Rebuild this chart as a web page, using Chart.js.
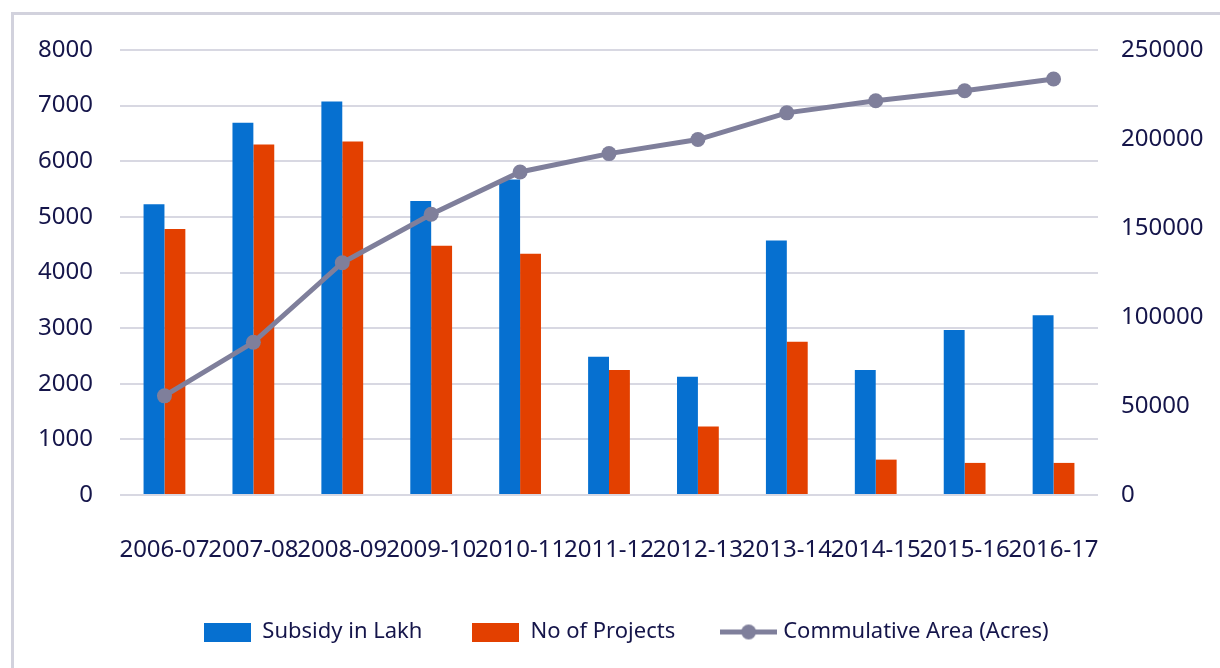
<!DOCTYPE html>
<html>
<head>
<meta charset="utf-8">
<script src="https://cdn.jsdelivr.net/npm/chart.js@4.4.1/dist/chart.umd.min.js"></script>
<style>
  html, body { margin: 0; padding: 0; background: #ffffff; }
  #wrap { position: relative; width: 1220px; height: 668px; overflow: hidden; }
  #frame { position: absolute; left: 11px; top: 12px; width: 1300px; height: 800px;
           border-left: 3px solid #d2d2dd; border-top: 3px solid #d2d2dd; }
  canvas { position: absolute; left: 0; top: 0; }
</style>
</head>
<body>
<div id="wrap">
  <div id="frame"></div>
  <canvas id="c" width="1220" height="668"></canvas>
</div>
<script>
const categories = ["2006-07","2007-08","2008-09","2009-10","2010-11","2011-12","2012-13","2013-14","2014-15","2015-16","2016-17"];
const subsidyInLakh = [5225, 6690, 7075, 5285, 5670, 2486, 2126, 4577, 2247, 2967, 3231];
const noOfProjects = [4780, 6300, 6355, 4480, 4337, 2247, 1231, 2757, 636, 577, 577];
const cumulativeArea = [55700, 85800, 130500, 157700, 181500, 191800, 199700, 214700, 221500, 227100, 233700];
const leftTicks = [0, 1000, 2000, 3000, 4000, 5000, 6000, 7000, 8000];
const rightTicks = [0, 50000, 100000, 150000, 200000, 250000];
const seriesNames = ["Subsidy in Lakh", "No of Projects", "Commulative Area (Acres)"];

const BLUE = "#0670d0", ORANGE = "#e34000", GREY = "#7f7f9b", TEXT = "#15154a", GRID = "#d8d8e2";
const FONT = "'Noto Sans', 'DejaVu Sans Condensed', sans-serif";

function rectImg(color, w, h) {
  const c = document.createElement("canvas"); c.width = w; c.height = h;
  const x = c.getContext("2d"); x.fillStyle = color; x.fillRect(0, 0, w, h); return c;
}
function lineImg(color, w, h) {
  const c = document.createElement("canvas"); c.width = w; c.height = h;
  const x = c.getContext("2d");
  x.strokeStyle = color; x.lineWidth = 5; x.beginPath(); x.moveTo(0, h / 2); x.lineTo(w, h / 2); x.stroke();
  x.fillStyle = color; x.beginPath(); x.arc(w / 2, h / 2, 7.5, 0, Math.PI * 2); x.fill();
  return c;
}
const legendImgs = [rectImg(BLUE, 47, 19), rectImg(ORANGE, 47, 19), lineImg(GREY, 57, 19)];

new Chart(document.getElementById("c"), {
  data: {
    labels: categories,
    datasets: [
      { type: "bar", label: seriesNames[0], data: subsidyInLakh, backgroundColor: BLUE, yAxisID: "y",
        categoryPercentage: 0.47, barPercentage: 1.0, order: 2 },
      { type: "bar", label: seriesNames[1], data: noOfProjects, backgroundColor: ORANGE, yAxisID: "y",
        categoryPercentage: 0.47, barPercentage: 1.0, order: 2 },
      { type: "line", label: seriesNames[2], data: cumulativeArea, borderColor: GREY, backgroundColor: GREY,
        borderWidth: 5, pointRadius: 7.5, pointBackgroundColor: GREY, pointBorderWidth: 0,
        tension: 0, yAxisID: "y1", order: 1 }
    ]
  },
  options: {
    responsive: false,
    animation: false,
    layout: { padding: { left: 33, right: 0, top: 50, bottom: 15 } },
    plugins: {
      tooltip: { enabled: false },
      legend: {
        position: "bottom",
        labels: {
          color: TEXT,
          font: { family: FONT, size: 22 },
          padding: 50,
          usePointStyle: true,
          pointStyleWidth: 47,
          boxHeight: 19,
          generateLabels: (chart) => chart.data.datasets.map((ds, i) => ({
            text: ds.label, datasetIndex: i, fontColor: TEXT,
            pointStyle: legendImgs[i], fillStyle: ds.backgroundColor, strokeStyle: ds.backgroundColor,
            lineWidth: 0, hidden: false
          }))
        }
      }
    },
    scales: {
      x: {
        grid: { display: false, drawTicks: false },
        border: { display: false },
        ticks: { color: TEXT, font: { family: FONT, size: 24 }, padding: 40.5,
                 autoSkip: false, maxRotation: 0, minRotation: 0 },
        afterFit: (s) => { s.height = 76; }
      },
      y: {
        position: "left", min: 0, max: 8000,
        grid: { color: GRID, lineWidth: 2, drawTicks: false },
        border: { display: false },
        afterBuildTicks: (s) => { s.ticks = leftTicks.map(v => ({ value: v })); },
        ticks: { color: TEXT, font: { family: FONT, size: 24 }, padding: 27, callback: (v) => String(v) },
        afterFit: (s) => { s.width = 87; }
      },
      y1: {
        position: "right", min: 0, max: 250000,
        grid: { drawOnChartArea: false, drawTicks: false },
        border: { display: false },
        afterBuildTicks: (s) => { s.ticks = rightTicks.map(v => ({ value: v })); },
        ticks: { color: TEXT, font: { family: FONT, size: 24 }, padding: 23, callback: (v) => String(v) },
        afterFit: (s) => { s.width = 122; }
      }
    }
  }
});
</script>
</body>
</html>
